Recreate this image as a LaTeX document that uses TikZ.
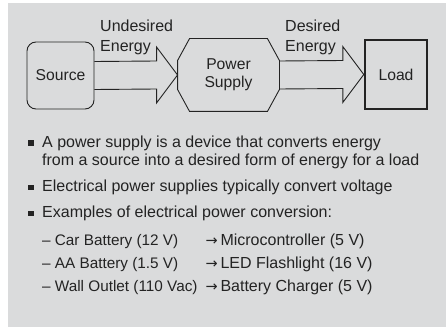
\documentclass[tikz,border=0pt]{standalone}
\usepackage{fontspec}
\setmainfont{Liberation Sans}
\newfontfamily\arrowfont{DejaVu Sans}
\usetikzlibrary{calc}
\definecolor{panelgray}{RGB}{218,219,220}
\definecolor{inkgray}{RGB}{35,35,35}
\newcommand{\rarr}{{\arrowfont\fontsize{14.5}{20}\selectfont →}}
\tikzset{
  block/.style={draw=inkgray, line width=0.9pt, inner sep=0pt, text=inkgray, font=\fontsize{15.7}{18}\selectfont},
  flow/.style={draw=inkgray, line width=0.9pt, line join=miter},
  txt/.style={anchor=base west, inner sep=0pt, text=inkgray, font=\fontsize{16}{20}\selectfont},
  subtxt/.style={txt, font=\fontsize{15.3}{20}\selectfont},
  bullet/.style={anchor=south west, fill=inkgray, minimum size=5.5pt, inner sep=0pt},
}
\begin{document}
\begin{tikzpicture}[x=1pt,y=1pt]
	\useasboundingbox (0,0) rectangle (446,327);
	\fill[panelgray] (8,0) rectangle (446,324);
	
	\node[block, rounded corners=9pt, minimum width=67pt, minimum height=67pt] (src) at (60.5,251.5) {Source};
	\node[block, draw=none, minimum width=101pt, minimum height=72pt, align=center] (psu) at (228.5,252) {Power\\Supply};
	\node[block, line width=2.4pt, minimum width=62pt, minimum height=69pt] (load) at (396,252.5) {Load};
	
	\draw[flow] ($(psu.north west)+(12,0)$) -- ($(psu.north east)+(-12,0)$) -- ($(psu.north east)+(0,-22)$)
		-- ($(psu.south east)+(0,22)$) -- ($(psu.south east)+(-12,0)$) -- ($(psu.south west)+(12,0)$)
		-- ($(psu.south west)+(0,22)$) -- ($(psu.north west)+(0,-22)$) -- cycle;
	
	\draw[flow] ($(src.east)+(0,14)$) -- ($(psu.west)+(-21,14)$) -- ($(psu.west)+(-21,28)$) -- (psu.west)
		-- ($(psu.west)+(-21,-28)$) -- ($(psu.west)+(-21,-14)$) -- ($(src.east)+(0,-14)$);
	\draw[flow] ($(psu.east)+(0,14)$) -- ($(load.west)+(-21,14)$) -- ($(load.west)+(-21,28)$) -- (load.west)
		-- ($(load.west)+(-21,-28)$) -- ($(load.west)+(-21,-14)$) -- ($(psu.east)+(0,-14)$);
	
	\node[txt, align=left] (undes) at (100,275) {Undesired\\Energy};
	\node[txt, align=left] (des) at (285,275) {Desired\\Energy};
	
	\node[bullet] (b1) at (28,181) {};
	\node[txt] (l1) at (42,180) {A power supply is a device that converts energy};
	\node[txt] (l2) at (42,162) {from a source into a desired form of energy for a load};
	\node[bullet] (b2) at (28,136.5) {};
	\node[txt] (l3) at (42,135.5) {Electrical power supplies typically convert voltage};
	\node[bullet] (b3) at (28,110.5) {};
	\node[txt] (l4) at (42,109.5) {Examples of electrical power conversion:};
	
	\node[subtxt] (car) at (42,82) {– Car Battery (12 V)};
	\node[txt] (mcu) at (205.5,82) {\rarr\,Microcontroller (5 V)};
	\node[subtxt] (aa) at (42,59) {– AA Battery (1.5 V)};
	\node[txt] (led) at (205.5,59) {\rarr\,LED Flashlight (16 V)};
	\node[subtxt] (wall) at (42,36) {– Wall Outlet (110 Vac)};
	\node[txt] (chg) at (205.5,36) {\rarr\,Battery Charger (5 V)};
\end{tikzpicture}
\end{document}
